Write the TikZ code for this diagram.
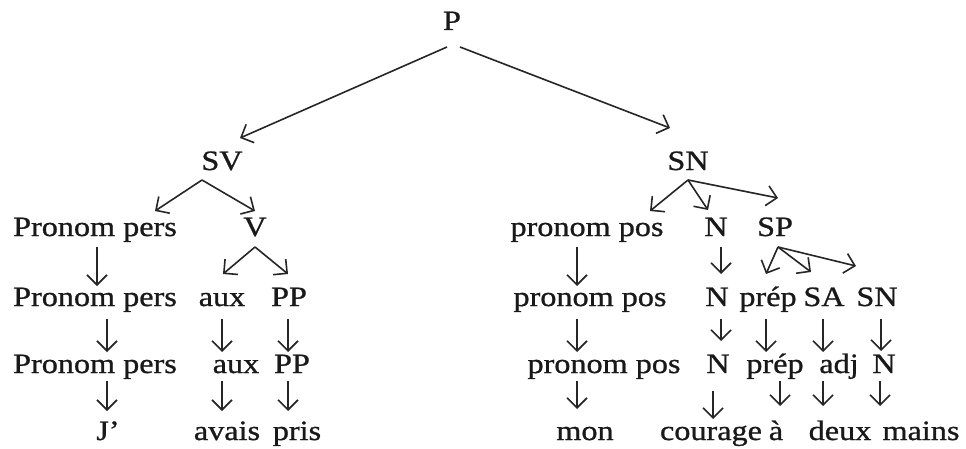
\documentclass[tikz,border=0pt]{standalone}
\usepackage{fontspec}
\setmainfont[FakeStretch=1.15,FakeBold=0.9]{Liberation Serif}
\usetikzlibrary{arrows.meta}
\begin{document}
\begin{tikzpicture}[x=1pt,y=1pt,
  lbl/.style={inner sep=0pt,anchor=base,font=\fontsize{28}{30}\selectfont,text=black!90},
  arr/.style={draw=black!85,line width=1.6pt,-{Straight Barb[length=10pt,width=20pt,line width=1.6pt]}}]
\fill[white] (0,0) rectangle (966,448);
\useasboundingbox (0,0) rectangle (966,448);

% top levels
\node[lbl] (P)  at (452,418) {P};
\node[lbl] (SV) at (222,278) {SV};
\node[lbl] (SN) at (688,278) {SN};

% row 1
\node[lbl] (pp1)  at (95,212)  {Pronom pers};
\node[lbl] (V)    at (255,212) {V};
\node[lbl] (pos1) at (587,212) {pronom pos};
\node[lbl] (n1)   at (716,212) {N};
\node[lbl] (sp)   at (775,212) {SP};

% row 2
\node[lbl] (pp2)   at (95,142)  {Pronom pers};
\node[lbl] (aux2)  at (222,142) {aux};
\node[lbl] (PP2)   at (289,142) {PP};
\node[lbl] (pos2)  at (590,142) {pronom pos};
\node[lbl] (n2)    at (717,142) {N};
\node[lbl] (prep2) at (768,142) {prép};
\node[lbl] (sa)    at (824,142) {SA};
\node[lbl] (sn2)   at (877,142) {SN};

% row 3
\node[lbl] (pp3)   at (95,75)  {Pronom pers};
\node[lbl] (aux3)  at (236,75) {aux};
\node[lbl] (PP3)   at (292,75) {PP};
\node[lbl] (pos3)  at (604,75) {pronom pos};
\node[lbl] (n3)    at (718,75) {N};
\node[lbl] (prep3) at (775,75) {prép};
\node[lbl] (adj)   at (839,75) {adj};
\node[lbl] (n4)    at (884,75) {N};

% words
\node[lbl] (J)       at (108,8) {J’};
\node[lbl] (avais)   at (227,8) {avais};
\node[lbl] (pris)    at (297,8) {pris};
\node[lbl] (mon)     at (585,8) {mon};
\node[lbl] (courage) at (711,8) {courage};
\node[lbl] (a)       at (776,8) {à};
\node[lbl] (deux)    at (840,8) {deux};
\node[lbl] (mains)   at (921,8) {mains};

% branches from P
\draw[arr] ([shift={(-5,-17)}]P.base) -- ([shift={(18,32)}]SV.base);
\draw[arr] ([shift={(8,-17)}]P.base) -- ([shift={(-18,42)}]SN.base);

% SV and its subtree
\draw[arr] ([shift={(-20,-10)}]SV.base) -- ([shift={(60,25)}]pp1.base);
\draw[arr] ([shift={(-20,-10)}]SV.base) -- ([shift={(0,25)}]V.base);
\draw[arr] ([shift={(2,-11)}]pp1.base) -- ([shift={(2,20)}]pp2.base);
\draw[arr] ([shift={(12,-13)}]pp2.base) -- ([shift={(12,21)}]pp3.base);
\draw[arr] ([shift={(12,-8)}]pp3.base) -- ([shift={(-1,29)}]J.base);
\draw[arr] ([shift={(0,-11)}]V.base) -- ([shift={(1,32)}]aux2.base);
\draw[arr] ([shift={(0,-11)}]V.base) -- ([shift={(-1,32)}]PP2.base);
\draw[arr] ([shift={(0,-13)}]aux2.base) -- ([shift={(-14,21)}]aux3.base);
\draw[arr] ([shift={(-1,-13)}]PP2.base) -- ([shift={(-4,21)}]PP3.base);
\draw[arr] ([shift={(-14,-8)}]aux3.base) -- ([shift={(-5,29)}]avais.base);
\draw[arr] ([shift={(-4,-8)}]PP3.base) -- ([shift={(-9,29)}]pris.base);

% SN and its subtree
\draw[arr] ([shift={(0,-10)}]SN.base) -- ([shift={(63,25)}]pos1.base);
\draw[arr] ([shift={(0,-10)}]SN.base) -- ([shift={(-8,26)}]n1.base);
\draw[arr] ([shift={(0,-10)}]SN.base) -- ([shift={(3,38)}]sp.base);
\draw[arr] ([shift={(-10,-11)}]pos1.base) -- ([shift={(-13,20)}]pos2.base);
\draw[arr] ([shift={(-13,-13)}]pos2.base) -- ([shift={(-27,21)}]pos3.base);
\draw[arr] ([shift={(-27,-8)}]pos3.base) -- ([shift={(-8,31)}]mon.base);
\draw[arr] ([shift={(5,-11)}]n1.base) -- ([shift={(4,32)}]n2.base);
\draw[arr] ([shift={(4,-13)}]n2.base) -- ([shift={(3,32)}]n3.base);
\draw[arr] ([shift={(-5,-18)}]n3.base) -- ([shift={(2,21)}]courage.base);
\draw[arr] ([shift={(3,-11)}]sp.base) -- ([shift={(-2,32)}]prep2.base);
\draw[arr] ([shift={(3,-11)}]sp.base) -- ([shift={(-13,34)}]sa.base);
\draw[arr] ([shift={(3,-11)}]sp.base) -- ([shift={(-21,40)}]sn2.base);
\draw[arr] ([shift={(-2,-13)}]prep2.base) -- ([shift={(-9,21)}]prep3.base);
\draw[arr] ([shift={(-1,-13)}]sa.base) -- ([shift={(-16,21)}]adj.base);
\draw[arr] ([shift={(4,-13)}]sn2.base) -- ([shift={(-3,22)}]n4.base);
\draw[arr] ([shift={(5,-8)}]prep3.base) -- ([shift={(4,34)}]a.base);
\draw[arr] ([shift={(-16,-8)}]adj.base) -- ([shift={(-17,34)}]deux.base);
\draw[arr] ([shift={(-4,-8)}]n4.base) -- ([shift={(-41,34)}]mains.base);
\end{tikzpicture}
\end{document}
